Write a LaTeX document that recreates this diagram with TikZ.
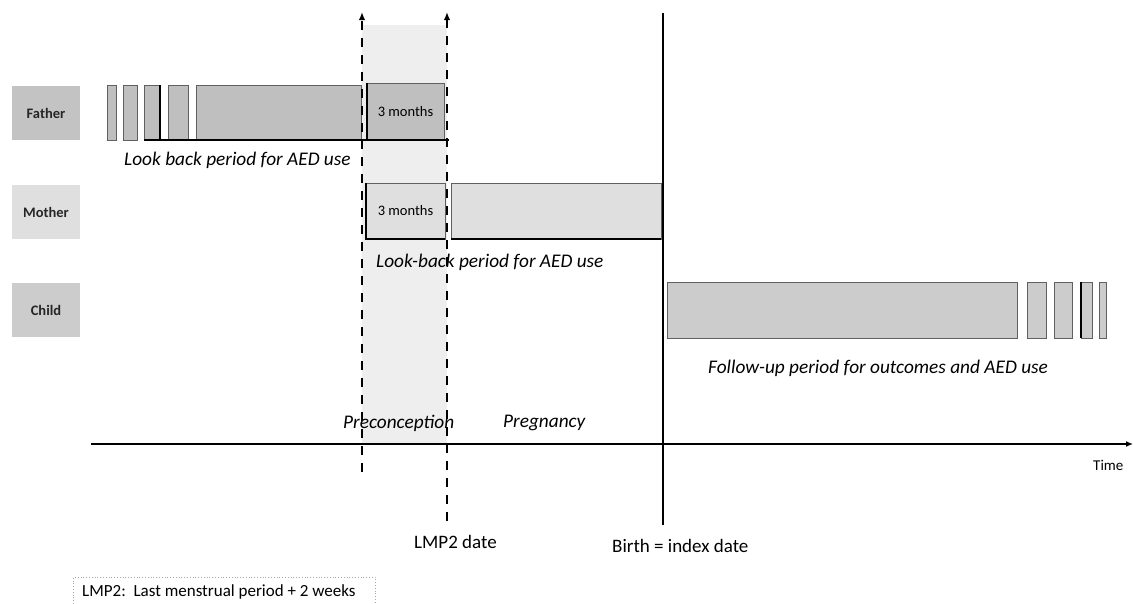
\documentclass[tikz,border=0pt]{standalone}
\usepackage{fontspec}
\setmainfont{Carlito}
\usetikzlibrary{arrows.meta}
\tikzset{
  bar/.style={draw=gray!75!black, line width=0.6pt, inner sep=0pt, outer sep=0pt, anchor=north west},
  fbar/.style={bar, fill=gray!50},
  mbar/.style={bar, fill=gray!25},
  cbar/.style={bar, fill=gray!40},
  who/.style={inner sep=0pt, outer sep=0pt, anchor=north west, minimum width=68pt, minimum height=54pt, font=\fontsize{14.5}{15}\selectfont\bfseries, text=black!85},
  period/.style={anchor=west, inner sep=0pt, font=\fontsize{19.3}{20}\selectfont\itshape},
  plain/.style={anchor=west, inner sep=0pt, font=\fontsize{19}{19}\selectfont},
  months/.style={inner sep=0pt, font=\fontsize{14.5}{15}\selectfont},
  dashline/.style={line width=2.8pt, dash pattern=on 9pt off 8pt, -{Latex[length=8pt,width=6.5pt]}},
  solidline/.style={line width=2.6pt},
}
\begin{document}
\begin{tikzpicture}[x=1pt,y=-1pt]
\useasboundingbox (0,0) rectangle (1133,603);
% shaded preconception window
\fill[gray!13] (362,25) rectangle (447,444);
% row labels
\node[who, fill=gray!47] (father) at (12,86) {Father};
\node[who, fill=gray!25] (mother) at (12,185) {Mother};
\node[who, fill=gray!40] (child) at (12,283) {Child};
% father bars
\node[fbar, minimum width=9pt, minimum height=55pt] (f1) at (107,85) {};
\node[fbar, minimum width=14pt, minimum height=55pt] (f2) at (123,85) {};
\node[fbar, minimum width=16pt, minimum height=55pt] (f3) at (144,85) {};
\node[fbar, minimum width=20pt, minimum height=55pt] (f4) at (168,85) {};
\node[fbar, minimum width=165pt, minimum height=55pt] (f5) at (196,85) {};
\node[fbar, minimum width=77pt, minimum height=57pt] (f6) at (367,83) {};
\node[months] at (f6.center) {3 months};
\draw[line width=2pt] (f3.south west) -- (f6.south east -| 449,0);
\draw[line width=1.8pt] (f3.north east) -- (f3.south east);
\draw[line width=1.8pt] (f6.north west) -- (f6.south west);
\node[period] (flab) at (124,160) {Look back period for AED use};
% mother bars
\node[mbar, minimum width=79pt, minimum height=56pt] (m1) at (366,183) {};
\node[mbar, minimum width=210pt, minimum height=56pt] (m2) at (451,183) {};
\node[months] at (m1.center) {3 months};
\draw[line width=1.6pt] (m1.north west) -- (m1.south west) -- (m1.south east);
\draw[line width=1.6pt] (m2.south west) -- (m2.south east);
\node[period] (mlab) at (376,262) {Look-back period for AED use};
% child bars
\node[cbar, minimum width=350pt, minimum height=56pt] (c1) at (667,282) {};
\node[cbar, minimum width=19pt, minimum height=56pt] (c2) at (1027,282) {};
\node[cbar, minimum width=18pt, minimum height=56pt] (c3) at (1054,282) {};
\node[cbar, minimum width=11pt, minimum height=56pt] (c4) at (1081,282) {};
\node[cbar, minimum width=7pt, minimum height=56pt] (c5) at (1099,282) {};
\draw[line width=1.6pt] (c4.north west) -- (c4.south west);
\node[period] (clab) at (708,368) {Follow-up period for outcomes and AED use};
% time axis
\coordinate (ax0) at (91,444);
\coordinate (ax1) at (1133,444);
\draw[line width=2.2pt, -{Latex[length=7pt,width=6pt]}] (ax0) -- (ax1);
\node[anchor=west, inner sep=0pt, font=\fontsize{15}{15}\selectfont] (time) at (1093,465) {Time};
\node[period] (pre) at (343,423) {Preconception};
\node[period] (preg) at (503,423) {Pregnancy};
% vertical markers
\coordinate (d1b) at (362,472);
\coordinate (d1t) at (362,12);
\coordinate (d2b) at (447,521);
\coordinate (d2t) at (447,12);
\coordinate (bb) at (663,525);
\coordinate (bt) at (663,13);
\draw[dashline] (d1b) -- (d1t);
\draw[dashline] (d2b) -- (d2t);
\draw[solidline] (bb) -- (bt);
\node[plain] (lmp) at (414,542) {LMP2 date};
\node[plain] (birth) at (612,546) {Birth = index date};
% legend box
\node[draw=gray!70, line width=0.8pt, dotted, anchor=north west, inner sep=0pt, minimum width=302pt, minimum height=34pt] (legbox) at (73,577) {};
\node[anchor=west, inner sep=0pt, font=\fontsize{17}{17}\selectfont] (leg) at (82,592) {LMP2:\ \ Last menstrual period + 2 weeks};
\end{tikzpicture}
\end{document}
